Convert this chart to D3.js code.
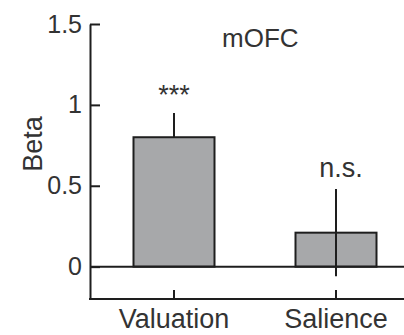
<!DOCTYPE html>
<html>
<head>
<meta charset="utf-8">
<script src="https://cdn.jsdelivr.net/npm/d3@7"></script>
<style>
  body { margin: 0; background: #fff; }
  svg { display: block; font-family: "Liberation Sans", Arial, sans-serif; }
</style>
</head>
<body>
<div id="chart"></div>
<script>
const categories = ["Valuation", "Salience"];
const betas = [0.80, 0.21];
const errors = [0.15, 0.27];
const showLower = [false, true];
const marks = ["***", "n.s."];
const yTicks = [0, 0.5, 1, 1.5];
const title = "mOFC";

const width = 404, height = 335;
const plotLeft = 90, plotTop = 24, plotBottom = 299;

const svg = d3.select("#chart")
  .append("svg")
    .attr("width", width)
    .attr("height", height);

const y = d3.scaleLinear()
  .domain([-0.2, 1.5])
  .range([plotBottom, plotTop]);

const x = d3.scaleBand()
  .domain(categories)
  .range([plotLeft + 3, width + 13])
  .paddingInner(0.5)
  .paddingOuter(0.25);

const ink = "#1e1e1e", textCol = "#333";

// bars
svg.selectAll("rect.bar")
  .data(categories)
  .enter()
  .append("rect")
    .attr("class", "bar")
    .attr("x", d => x(d))
    .attr("width", x.bandwidth())
    .attr("y", (d, i) => y(betas[i]))
    .attr("height", (d, i) => y(0) - y(betas[i]))
    .attr("fill", "#a7a8aa")
    .attr("stroke", ink)
    .attr("stroke-width", 2);

// error bars
svg.selectAll("line.err")
  .data(categories)
  .enter()
  .append("line")
    .attr("class", "err")
    .attr("x1", d => x(d) + x.bandwidth() / 2)
    .attr("x2", d => x(d) + x.bandwidth() / 2)
    .attr("y1", (d, i) => y(betas[i] + errors[i]))
    .attr("y2", (d, i) => y(showLower[i] ? betas[i] - errors[i] : betas[i]))
    .attr("stroke", ink)
    .attr("stroke-width", 2);

// zero line
svg.append("line")
  .attr("x1", plotLeft).attr("x2", width)
  .attr("y1", y(0)).attr("y2", y(0))
  .attr("stroke", ink)
  .attr("stroke-width", 2);

// y axis
const yAxis = svg.append("g")
  .attr("transform", `translate(${plotLeft},0)`)
  .call(d3.axisLeft(y)
    .tickValues(yTicks)
    .tickFormat(d3.format("~g"))
    .tickSizeInner(-10)
    .tickSizeOuter(0)
    .tickPadding(8));
yAxis.selectAll("path, line").attr("stroke", ink).attr("stroke-width", 2);
yAxis.selectAll("text")
  .attr("fill", textCol)
  .style("font-size", "25px")
  .style("font-family", "Liberation Sans, Arial, sans-serif");

// x axis
svg.append("line")
  .attr("x1", plotLeft - 1).attr("x2", width)
  .attr("y1", plotBottom).attr("y2", plotBottom)
  .attr("stroke", ink)
  .attr("stroke-width", 2);

const xAxis = svg.append("g")
  .attr("transform", `translate(0,${plotBottom})`)
  .call(d3.axisBottom(x)
    .tickSizeInner(-9)
    .tickSizeOuter(0)
    .tickPadding(10));
xAxis.select(".domain").remove();
xAxis.selectAll("line").attr("stroke", ink).attr("stroke-width", 2);
xAxis.selectAll("text")
  .attr("fill", textCol)
  .style("font-size", "27px")
  .style("font-family", "Liberation Sans, Arial, sans-serif");

// significance marks
svg.selectAll("text.mark")
  .data(categories)
  .enter()
  .append("text")
    .attr("class", "mark")
    .attr("x", (d, i) => x(d) + x.bandwidth() / 2 + (i === 1 ? 5 : 0))
    .attr("y", (d, i) => i === 0 ? 104 : 177)
    .attr("text-anchor", "middle")
    .attr("fill", textCol)
    .style("font-size", "27px")
    .text((d, i) => marks[i]);

// y label
svg.append("text")
  .attr("transform", "translate(42,144) rotate(-90)")
  .attr("text-anchor", "middle")
  .attr("fill", textCol)
  .style("font-size", "27px")
  .text("Beta");

// title
svg.append("text")
  .attr("x", 222)
  .attr("y", 47)
  .attr("fill", textCol)
  .style("font-size", "26px")
  .text(title);
</script>
</body>
</html>
